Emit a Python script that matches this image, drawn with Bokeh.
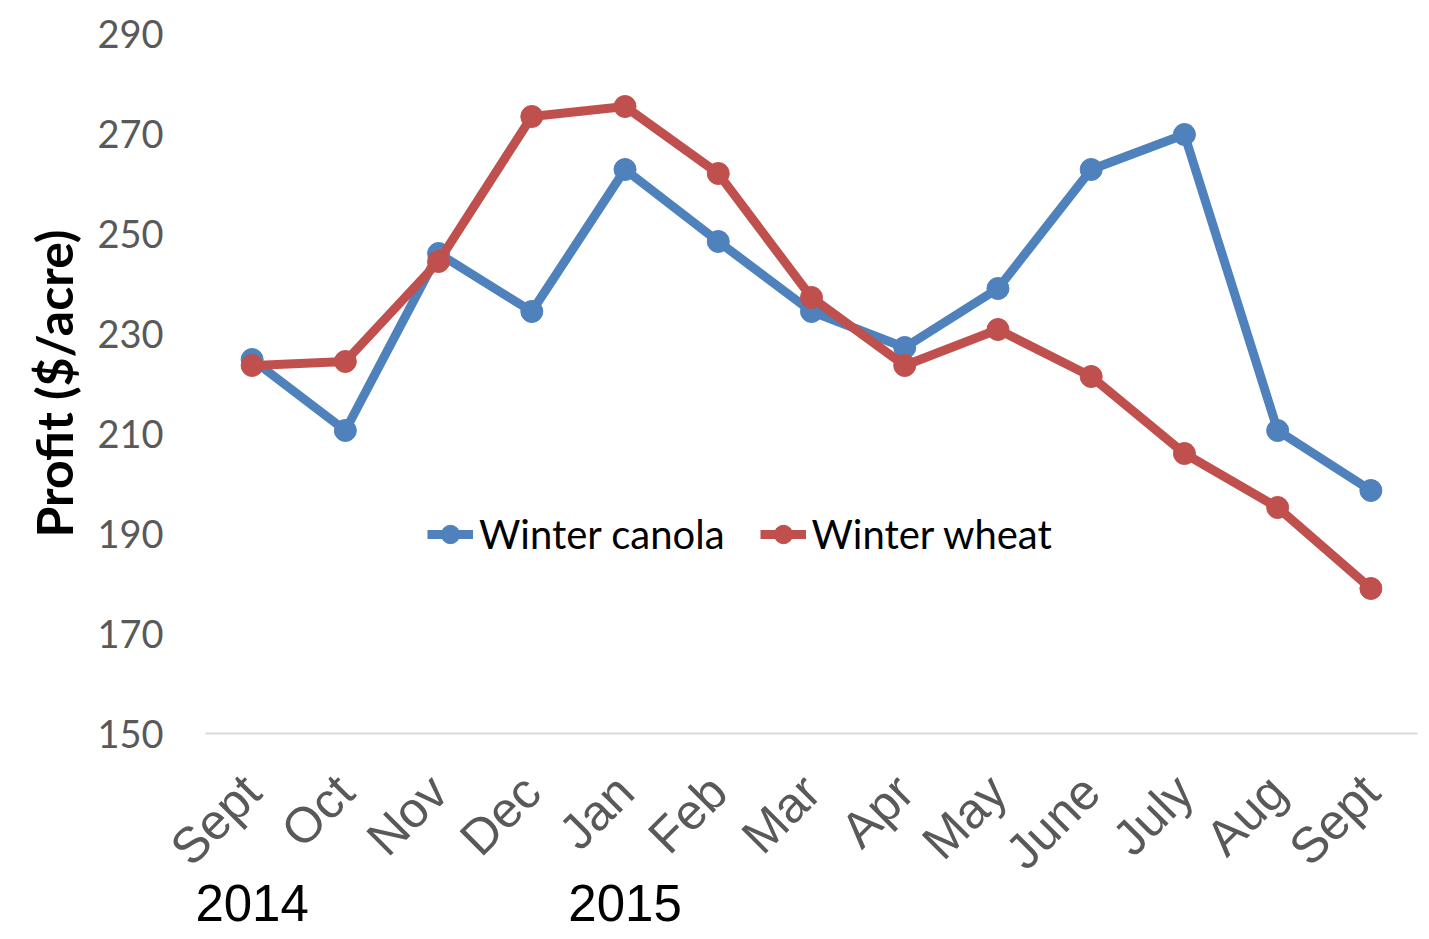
from bokeh.plotting import figure
from bokeh.models import FixedTicker, Range1d, Legend, LegendItem, LinearAxis
from bokeh.embed import file_html
from bokeh.resources import INLINE

months = ["Sept", "Oct", "Nov", "Dec", "Jan", "Feb", "Mar", "Apr", "May", "June", "July", "Aug", "Sept"]
canola = [224.8, 210.6, 246.0, 234.4, 262.8, 248.4, 234.4, 227.2, 239.0, 262.8, 269.8, 210.6, 198.6]
wheat = [223.6, 224.4, 244.4, 273.4, 275.4, 262.0, 237.2, 223.6, 230.8, 221.4, 206.0, 195.2, 179.0]
y_ticks = [150, 170, 190, 210, 230, 250, 270, 290]
year_labels = ["2014", "2015"]
year_pos = [0, 4]

xs = list(range(len(months)))

p = figure(width=1421, height=935, output_backend="svg", toolbar_location=None,
           x_range=Range1d(-0.5, len(months) - 0.5), y_range=Range1d(150, 290),
           min_border_left=205, min_border_right=4, min_border_top=33, min_border_bottom=202)
p.outline_line_color = None
p.background_fill_color = "white"
p.border_fill_color = "white"
p.xgrid.visible = False
p.ygrid.visible = False

blue = "#4F81BD"
red = "#C0504D"

l1 = p.line(xs, canola, line_color=blue, line_width=9, line_join="round")
s1 = p.scatter(xs, canola, size=22, fill_color=blue, line_color=blue)
l2 = p.line(xs, wheat, line_color=red, line_width=9, line_join="round")
s2 = p.scatter(xs, wheat, size=22, fill_color=red, line_color=red)

# y axis
p.yaxis.ticker = FixedTicker(ticks=y_ticks)
p.yaxis.axis_line_color = None
p.yaxis.major_tick_line_color = None
p.yaxis.minor_tick_line_color = None
p.yaxis.major_tick_out = 0
p.yaxis.major_label_standoff = 42
p.yaxis.major_label_text_font = "Lato"
p.yaxis.major_label_text_font_size = "38px"
p.yaxis.major_label_text_color = "#595959"
p.yaxis.axis_label = "Profit ($/acre)"
p.yaxis.axis_label_text_font = "Lato"
p.yaxis.axis_label_text_font_style = "bold"
p.yaxis.axis_label_text_font_size = "50px"
p.yaxis.axis_label_text_color = "black"
p.yaxis.axis_label_standoff = 10

# x axis
p.xaxis.ticker = FixedTicker(ticks=xs)
p.xaxis.major_label_overrides = {i: m for i, m in enumerate(months)}
p.xaxis.axis_line_color = "#D9D9D9"
p.xaxis.axis_line_width = 2
p.xaxis.major_tick_line_color = None
p.xaxis.minor_tick_line_color = None
p.xaxis.major_tick_out = 0
p.xaxis.major_label_orientation = 0.785398
p.xaxis.major_label_standoff = 50
p.xaxis.major_label_text_font = "Liberation Sans"
p.xaxis.major_label_text_font_size = "50px"
p.xaxis.major_label_text_color = "#595959"

# year labels as a second, line-less axis
yax = LinearAxis(ticker=FixedTicker(ticks=year_pos),
                 major_label_overrides={pos: lab for pos, lab in zip(year_pos, year_labels)},
                 axis_line_color=None, major_tick_line_color=None, minor_tick_line_color=None,
                 major_tick_out=0, major_tick_in=0, minor_tick_out=0, minor_tick_in=0,
                 major_label_standoff=-18,
                 major_label_text_font="Liberation Sans", major_label_text_font_size="51px",
                 major_label_text_color="black")
p.add_layout(yax, "below")

legend = Legend(items=[LegendItem(label="Winter canola", renderers=[l1, s1]),
                       LegendItem(label="Winter wheat", renderers=[l2, s2])],
                orientation="horizontal", location=(222, 175),
                background_fill_alpha=0, border_line_color=None,
                label_text_font="Lato", label_text_font_size="40px",
                label_text_color="black",
                glyph_width=46, glyph_height=48, label_standoff=6, spacing=35,
                padding=0, margin=0)
p.add_layout(legend)

open("out.html", "w").write(file_html(p, INLINE))
